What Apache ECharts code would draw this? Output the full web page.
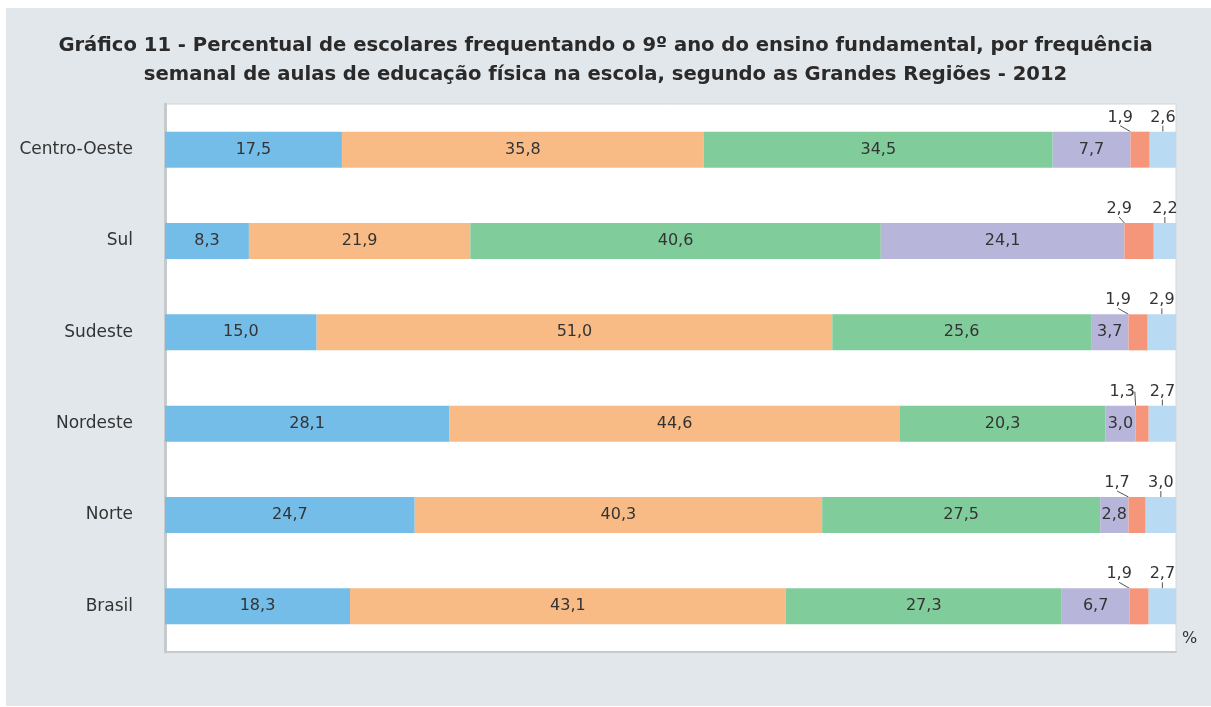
<!DOCTYPE html>
<html><head><meta charset="utf-8">
<script src="https://cdn.jsdelivr.net/npm/echarts@6/dist/echarts.min.js"></script>
<style>html,body{margin:0;padding:0;background:#fff}#c{width:1211px;height:707px}</style>
</head><body><div id="c"></div>
<script>
const categories = ['Brasil', 'Norte', 'Nordeste', 'Sudeste', 'Sul', 'Centro-Oeste'];
const s1 = [18.3, 24.7, 28.1, 15.0, 8.3, 17.5];
const s2 = [43.1, 40.3, 44.6, 51.0, 21.9, 35.8];
const s3 = [27.3, 27.5, 20.3, 25.6, 40.6, 34.5];
const s4 = [6.7, 2.8, 3.0, 3.7, 24.1, 7.7];
const s5 = [1.9, 1.7, 1.3, 1.9, 2.9, 1.9];
const s6 = [2.7, 3.0, 2.7, 2.9, 2.2, 2.6];
const titleText = 'Gráfico 11 - Percentual de escolares frequentando o 9º ano do ensino fundamental, por frequência\nsemanal de aulas de educação física na escola, segundo as Grandes Regiões - 2012';
const colors = ['#74bde8', '#f8bb86', '#80cc9a', '#b8b5da', '#f5957a', '#b8daf2'];
const FONT = '"DejaVu Sans", sans-serif';
const fmt = p => p.value.toFixed(1).replace('.', ',');

function inside(data, i) {
  return {
    type: 'bar', stack: 't', data: data, barWidth: 36,
    itemStyle: { color: colors[i] },
    label: { show: true, position: 'inside', formatter: fmt, color: '#333', fontSize: 16, fontFamily: FONT }
  };
}
function above(data, i, dx) {
  return {
    type: 'bar', stack: 't', data: data, barWidth: 36,
    itemStyle: { color: colors[i] },
    label: { show: true, position: 'top', distance: 6, formatter: fmt, color: '#333', fontSize: 16, fontFamily: FONT },
    labelLayout: { dx: dx },
    labelLine: { show: true, lineStyle: { color: '#555', width: 1 } }
  };
}

const chart = echarts.init(document.getElementById('c'));
chart.setOption({
  backgroundColor: '#ffffff',
  graphic: [
    { type: 'rect', z: -10, shape: { x: 6, y: 8, width: 1205, height: 698 }, style: { fill: '#e2e7eb' } },
    { type: 'text', left: 1182, top: 631, style: { text: '%', fontSize: 16, fill: '#333', fontFamily: FONT } }
  ],
  title: {
    text: titleText, left: 'center', top: 26,
    textStyle: { fontSize: 19.6, fontWeight: 'bold', color: '#2a2a2a', lineHeight: 29, fontFamily: FONT }
  },
  grid: { left: 165, right: 35, top: 104, bottom: 55, show: true, backgroundColor: '#fff', borderColor: '#d3d6d9', borderWidth: 1 },
  xAxis: {
    type: 'value', min: 0, max: 100,
    axisLabel: { show: false }, splitLine: { show: false }, axisTick: { show: false },
    axisLine: { show: true, lineStyle: { color: '#c7cacd', width: 2 } }
  },
  yAxis: {
    type: 'category', data: categories,
    axisTick: { show: false },
    axisLine: { show: true, lineStyle: { color: '#c7cacd', width: 3 } },
    axisLabel: { color: '#333', fontSize: 17, margin: 32, fontFamily: FONT }
  },
  series: [
    inside(s1, 0), inside(s2, 1), inside(s3, 2), inside(s4, 3),
    above(s5, 4, -20), above(s6, 5, 0)
  ]
});
</script></body></html>
